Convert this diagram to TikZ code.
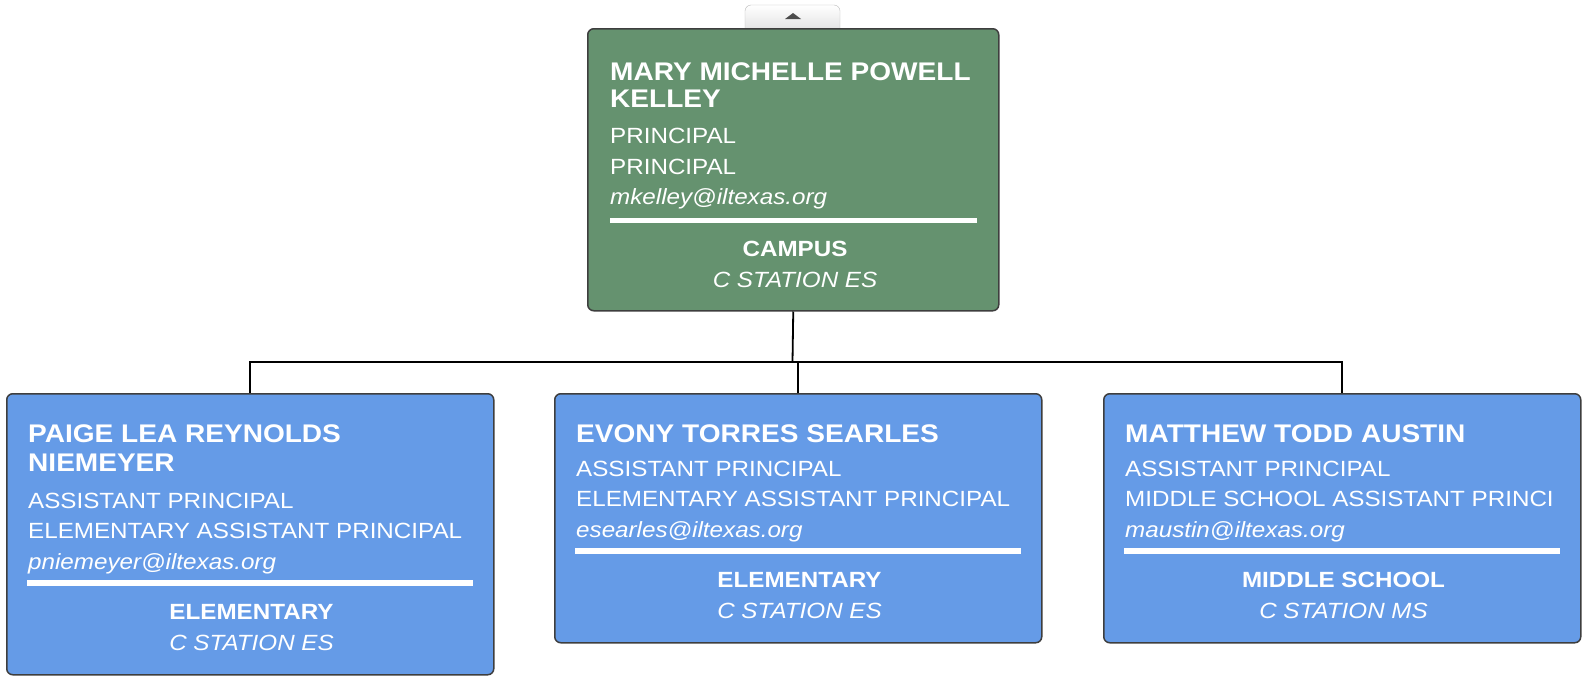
\documentclass[tikz,border=0pt]{standalone}
\usepackage{fontspec}
\setmainfont[FakeStretch=1.1]{Liberation Sans}
\usepackage{xcolor}
\usepackage{tikz}
\usetikzlibrary{positioning,calc}

\definecolor{campusgreen}{RGB}{101,146,111}
\definecolor{staffblue}{RGB}{101,155,231}
\definecolor{cardline}{RGB}{62,62,62}

\begin{document}
\begin{tikzpicture}[
  x=1pt, y=-1pt,
  card/.style={draw=cardline, line width=1.5pt, rounded corners=6pt, anchor=north west, inner sep=0pt},
  nm/.style={font=\fontsize{25.5}{27}\selectfont\bfseries, text=white, anchor=base west, inner sep=0pt},
  ln/.style={font=\fontsize{22}{25}\selectfont, text=white, anchor=base west, inner sep=0pt},
  mailtxt/.style={ln, font=\fontsize{22}{25}\selectfont\itshape},
  dept/.style={font=\fontsize{22}{25}\selectfont\bfseries, text=white, anchor=base, inner sep=0pt},
  sitetxt/.style={font=\fontsize{22}{25}\selectfont\itshape, text=white, anchor=base, inner sep=0pt},
  rule/.style={white, line width=5.5pt},
  link/.style={black, line width=1.8pt}
]
  \useasboundingbox (0,0) rectangle (1585,678);

  % collapse tab above the head card
  \draw[draw=gray!55, top color=white, bottom color=gray!22, rounded corners=6pt]
    (745,30) -- (745,5) -- (840,5) -- (840,30);
  \fill[black!70] (785,19) -- (801,19) -- (793,13) -- cycle;

  % head card
  \node[card, fill=campusgreen, minimum width=411, minimum height=282] (head) at (587,28) {};
  \node[nm] (head-n1) at (610,80) {MARY MICHELLE POWELL};
  \node[nm] (head-n2) at (610,107) {KELLEY};
  \node[ln] (head-t1) at (610,143) {PRINCIPAL};
  \node[ln] (head-t2) at (610,174) {PRINCIPAL};
  \node[mailtxt] (head-mail) at (610,204) {mkelley@iltexas.org};
  \draw[rule] (610,220.5) -- (977,220.5);
  \node[dept] (head-dep) at (795,256) {CAMPUS};
  \node[sitetxt] (head-site) at (795,287) {C STATION ES};

  % assistant principals
  \foreach \id/\lx/\rx/\nma/\nmb/\dy/\tta/\ttb/\mail/\dep/\where in {
    1/6/493/PAIGE LEA REYNOLDS/NIEMEYER/32/ASSISTANT PRINCIPAL/ELEMENTARY ASSISTANT PRINCIPAL/pniemeyer@iltexas.org/ELEMENTARY/C STATION ES,
    2/554/1041/EVONY TORRES SEARLES//0/ASSISTANT PRINCIPAL/ELEMENTARY ASSISTANT PRINCIPAL/esearles@iltexas.org/ELEMENTARY/C STATION ES,
    3/1103/1580/MATTHEW TODD AUSTIN//0/ASSISTANT PRINCIPAL/MIDDLE SCHOOL ASSISTANT PRINCI/maustin@iltexas.org/MIDDLE SCHOOL/C STATION MS} {
    \node[card, fill=staffblue, minimum width=\rx-\lx, minimum height=249+\dy] (ap\id) at (\lx,393) {};
    \node[nm] (ap\id-n1) at (\lx+22,442) {\nma};
    \node[nm] (ap\id-n2) at (\lx+22,471) {\nmb};
    \node[ln] (ap\id-t1) at (\lx+22,476+\dy) {\tta};
    \node[ln] (ap\id-t2) at (\lx+22,506+\dy) {\ttb};
    \node[mailtxt] (ap\id-mail) at (\lx+22,537+\dy) {\mail};
    \draw[rule] (\lx+21,551+\dy) -- (\rx-20,551+\dy);
    \node[dept] (ap\id-dep) at ({(\lx+\rx)/2+2},587+\dy) {\dep};
    \node[sitetxt] (ap\id-site) at ({(\lx+\rx)/2+2},618+\dy) {\where};
  }

  % reporting lines
  \coordinate (bus) at (792.5,362);
  \draw[link] (head.south) -- (bus);
  \draw[link] (ap1.north) |- (bus) -| (ap3.north);
  \draw[link] (ap2.north) -- (ap2.north |- bus);
\end{tikzpicture}
\end{document}
